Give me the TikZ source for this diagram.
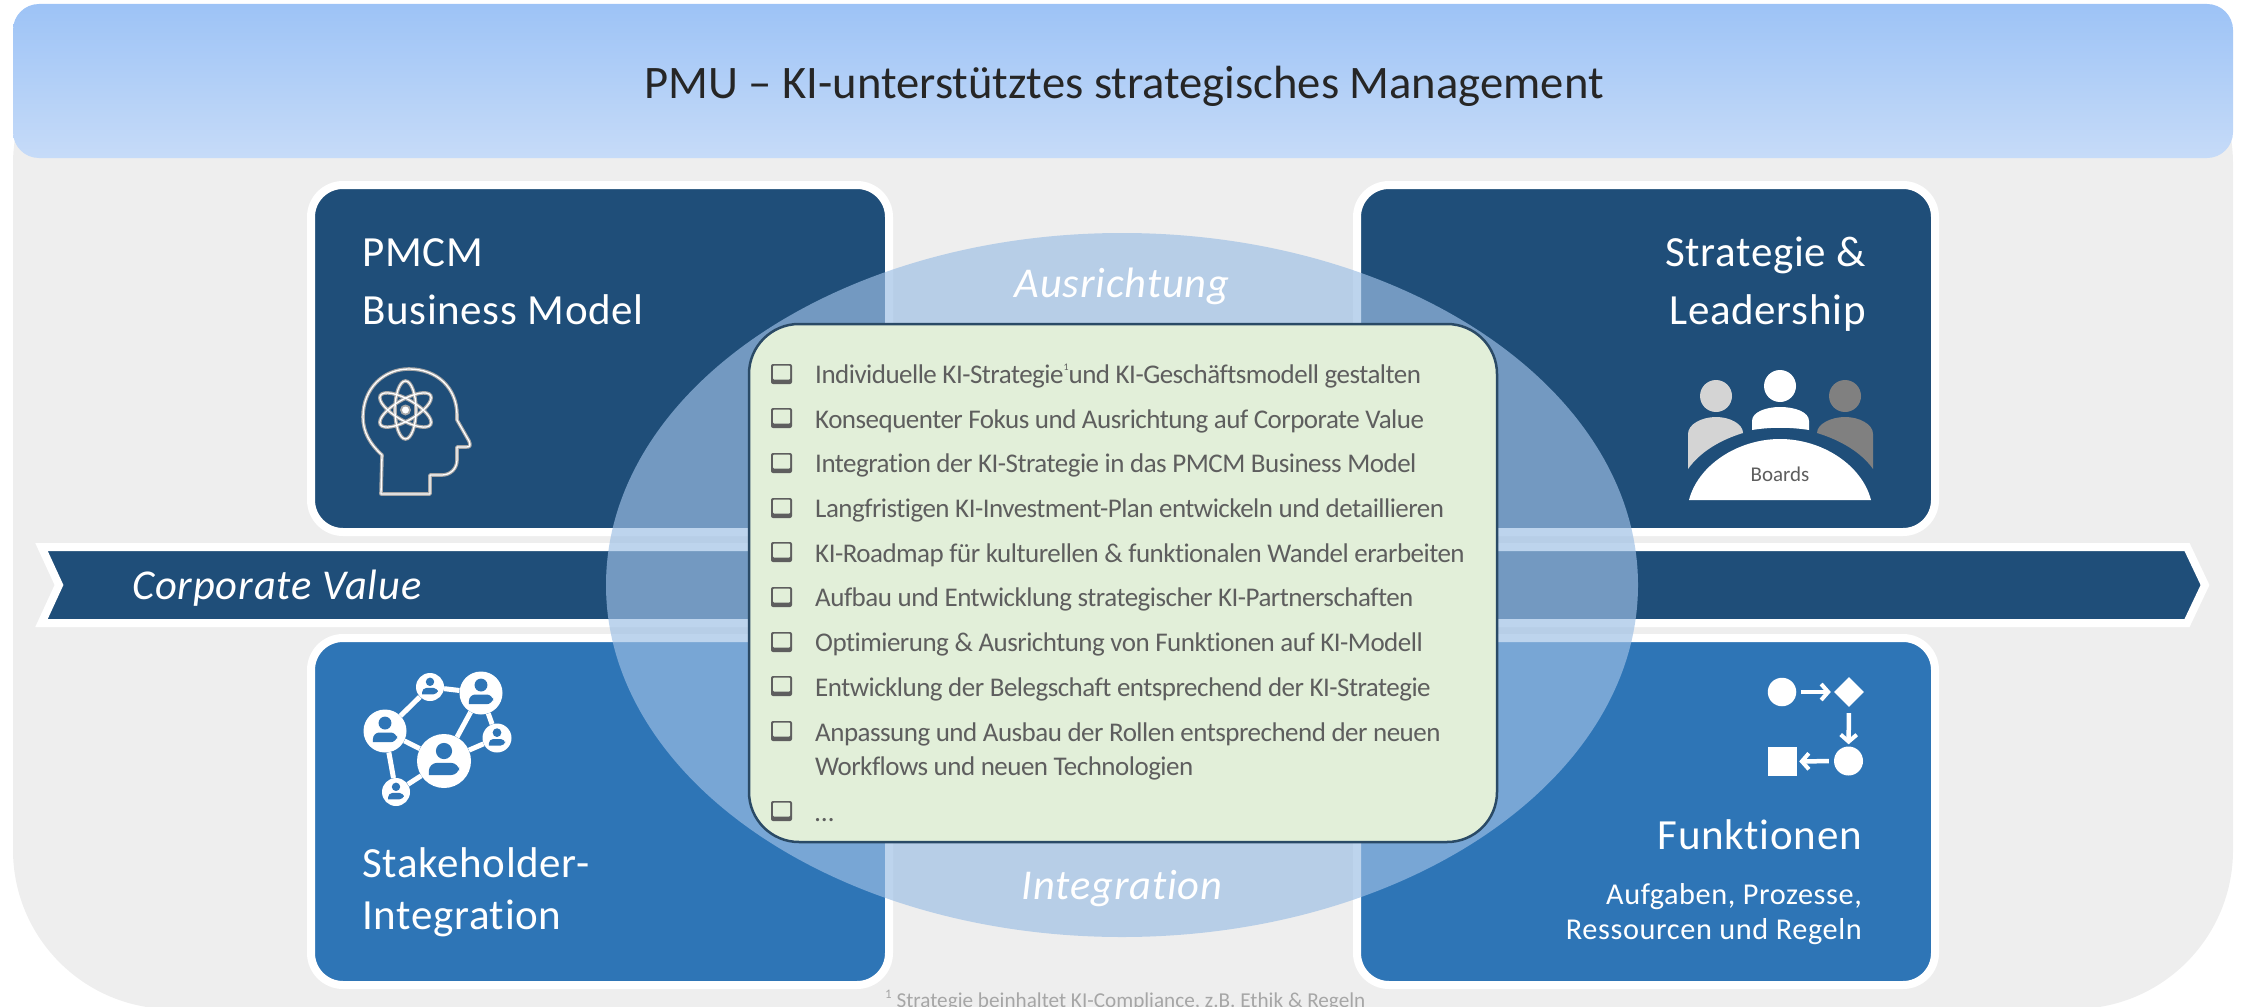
\documentclass[tikz,border=0pt]{standalone}
\usepackage{fontspec}
\setmainfont{Carlito}[Ligatures=NoCommon]
\usetikzlibrary{arrows.meta,shapes.geometric}
\definecolor{bggrey}{HTML}{EEEEEE}
\definecolor{navy}{HTML}{1F4E79}
\definecolor{midblue}{HTML}{2E75B6}
\definecolor{ellblue}{HTML}{9DBFE5}
\definecolor{boxgreen}{HTML}{E2EFD9}
\definecolor{boxline}{HTML}{2A4A66}
\definecolor{txtgrey}{HTML}{5E5E5E}
\definecolor{headtop}{HTML}{9DC3F6}
\definecolor{headbot}{HTML}{C6DBF8}
\definecolor{iconline}{HTML}{A6A6A6}
\tikzset{
  navycard/.style={fill=navy,draw=white,line width=8pt,rounded corners=32pt},
  bluecard/.style={fill=midblue,draw=white,line width=8pt,rounded corners=32pt},
  cardtitle/.style={text=white,inner sep=0pt,font=\fontsize{43}{58}\selectfont\addfontfeature{LetterSpace=1.6}},
  cardsub/.style={text=white,inner sep=0pt,font=\fontsize{30.3}{35}\selectfont\addfontfeature{LetterSpace=2}},
  italiclabel/.style={text=white,inner sep=0pt,font=\fontsize{42.5}{48}\selectfont\itshape\addfontfeature{LetterSpace=2}},
  listline/.style={text=txtgrey,inner sep=0pt,anchor=base west,font=\fontsize{27}{35}\selectfont\addfontfeature{LetterSpace=-1.9}},
  netlink/.style={draw=white,line width=5pt},
  netdot/.style={circle,fill=white,inner sep=0pt},
  flowshape/.style={fill=white,inner sep=0pt,draw=none},
  flowarrow/.style={draw=white,line width=4.5pt,-{Straight Barb[length=7pt,width=16pt,line width=4pt]}},
  headline/.style={draw=iconline,line width=3.6pt},
  headinner/.style={draw=white,line width=1.3pt},
}
\newcommand{\listbox}[2]{%
  \fill[txtgrey] (771,#2-20) [rounded corners=2pt] rectangle (792,#2);
  \fill[boxgreen] (773,#2-18.5) [rounded corners=1pt] rectangle (790,#2-4.5);
}
\newcommand{\netnode}[4]{%
  \node[netdot,minimum size=2*#4 pt] (#1) at (#2,#3) {};
}
\newcommand{\netperson}[3]{%
  \fill[midblue] (#1,#2-0.37*#3) circle[radius=0.3*#3];
  \fill[midblue,rounded corners=0.3*#3 pt] (#1-0.56*#3,#2+0.52*#3) -- (#1-0.56*#3,#2+0.07*#3) -- (#1+0.56*#3,#2+0.07*#3) -- (#1+0.56*#3,#2+0.52*#3) [sharp corners] -- cycle;
}
\begin{document}
\begin{tikzpicture}[x=1pt,y=-1pt]
\useasboundingbox (0,0) rectangle (2242,1006);
% background
\fill[bggrey,rounded corners=159pt] (13,5) rectangle (2233,1009);
\shade[top color=headtop,bottom color=headbot,rounded corners=26pt] (13,4) rectangle (2233,158);
\node[inner sep=0pt,text=black!85,font=\fontsize{46.6}{50}\selectfont] (title) at (1124,86) {PMU – KI-unterstütztes strategisches Management};
% cards
\path[navycard] (311,185) rectangle (889,532);
\path[navycard] (1357,185) rectangle (1935,532);
\path[bluecard] (311,638) rectangle (889,985);
\path[bluecard] (1357,638) rectangle (1935,985);
% banner
\path[fill=navy,draw=white,line width=8pt,miter limit=10] (41.5,547) -- (59,585) -- (41.5,623) -- (2187,623) -- (2205,585) -- (2187,547) -- cycle;
\node[italiclabel,anchor=base west] (corp) at (132,599) {Corporate Value};
% card titles
\node[cardtitle,anchor=base west] (t1a) at (362,266) {PMCM};
\node[cardtitle,anchor=base west] (t1b) at (362,324) {Business Model};
\node[cardtitle,anchor=base east] (t2a) at (1866,266) {Strategie \&};
\node[cardtitle,anchor=base east] (t2b) at (1866,324) {Leadership};
\node[cardtitle,anchor=base west] (t3a) at (362,877) {Stakeholder-};
\node[cardtitle,anchor=base west] (t3b) at (362,929) {Integration};
\node[cardtitle,anchor=base east] (t4a) at (1862,849) {Funktionen};
\node[cardsub,anchor=base east] (t4b) at (1862,904) {Aufgaben, Prozesse,};
\node[cardsub,anchor=base east] (t4c) at (1862,939) {Ressourcen und Regeln};
% head icon
\foreach \st in {headline,headinner}{
  \draw[\st,line join=round] (381,494) -- (382,455) .. controls (370,444) and (363,432) .. (363,417)
    .. controls (363,388) and (384,369) .. (409,369)
    .. controls (437,369) and (457,388) .. (457,415) -- (457,420)
    -- (469,441) .. controls (471,446) and (470,447) .. (466,447)
    -- (457,447) -- (457,460) .. controls (457,469) and (450,475) .. (442,475)
    -- (430,475) -- (430,494) -- cycle;
  \foreach \ang in {0,60,-60}{
    \draw[\st,rotate around={\ang:(405.5,410)}] (405.5,410) ellipse[x radius=10.5,y radius=29];
  }
}
\fill[iconline] (405.5,410) circle[radius=5.5];
\fill[white] (405.5,410) circle[radius=3.5];
% boards icon
\fill[white!83!black] (1716,396) circle[radius=16];
\fill[white] (1780,386) circle[radius=16];
\fill[white!50!black] (1845,396) circle[radius=16];
\fill[white!83!black] (1688,469) -- (1688,434) .. controls (1688,424) and (1702,417) .. (1716,417) .. controls (1730,417) and (1743,424) .. (1743,433) -- (1743,433) .. controls (1720,440) and (1700,452) .. (1688,469) -- cycle;
\fill[white!50!black] (1873,469) -- (1873,434) .. controls (1873,424) and (1859,417) .. (1845,417) .. controls (1831,417) and (1817,424) .. (1817,433) .. controls (1840,440) and (1861,452) .. (1873,469) -- cycle;
\fill[white] (1752,430) -- (1752,421) .. controls (1752,412) and (1766,407) .. (1780,407) .. controls (1795,407) and (1809,412) .. (1809,421) -- (1809,430) .. controls (1790,427) and (1770,427) .. (1752,430) -- cycle;
\fill[white] (1689,500) .. controls (1698,465) and (1738,439) .. (1780,439) .. controls (1822,439) and (1862,465) .. (1871,500) -- cycle;
\node[inner sep=0pt,text=txtgrey,font=\fontsize{21}{24}\selectfont] (boards) at (1780,474) {Boards};
% network icon
\netnode{na}{430}{687}{14}
\netnode{nb}{481}{693}{21.5}
\netnode{nc}{385}{731}{21.5}
\netnode{nd}{497}{738}{14.5}
\netnode{ne}{444}{761}{27}
\netnode{nf}{396}{792}{14}
\draw[netlink] (na) -- (nb);
\draw[netlink] (na) -- (nc);
\draw[netlink] (nc) -- (ne);
\draw[netlink] (nc) -- (nf);
\draw[netlink] (nf) -- (ne);
\draw[netlink] (ne) -- (nb);
\draw[netlink] (ne) -- (nd);
\draw[netlink] (nb) -- (nd);
\netperson{430}{687}{14}
\netperson{481}{693}{21.5}
\netperson{385}{731}{21.5}
\netperson{497}{738}{14.5}
\netperson{444}{761}{27}
\netperson{396}{792}{14}
% flow icon
\node[flowshape,circle,minimum size=28.5pt] (fa) at (1782,692) {};
\node[flowshape,diamond,minimum size=30pt] (fb) at (1849,692) {};
\node[flowshape,circle,minimum size=29pt] (fc) at (1848.5,761) {};
\node[flowshape,rectangle,minimum size=29pt] (fd) at (1782.5,761.5) {};
\draw[flowarrow,shorten <=5pt,shorten >=3pt] (fa) -- (fb);
\draw[flowarrow,shorten <=6pt,shorten >=2pt] (fb) -- (fc);
\draw[flowarrow,shorten <=5pt,shorten >=2pt] (fc) -- (fd);
% ellipse
\fill[ellblue,fill opacity=0.67] (1122,585) ellipse[x radius=516,y radius=352];
\node[italiclabel] (ausr) at (1122,286) {Ausrichtung};
\node[italiclabel,anchor=base] (integ) at (1122,899) {Integration};
% list box
\path[fill=boxgreen,draw=boxline,line width=2.5pt,rounded corners=50pt] (749,324) rectangle (1497,842);
\listbox{1}{384}
\listbox{2}{428}
\listbox{3}{473}
\listbox{4}{518}
\listbox{5}{562}
\listbox{6}{607}
\listbox{7}{652}
\listbox{8}{696}
\listbox{9}{741}
\listbox{10}{821}
\node[listline] (l1) at (815,383) {Individuelle KI-Strategie\raisebox{0.45em}{\fontsize{10}{10}\selectfont 1}und KI-Geschäftsmodell gestalten};
\node[listline] (l2) at (815,428) {Konsequenter Fokus und Ausrichtung auf Corporate Value};
\node[listline] (l3) at (815,472) {Integration der KI-Strategie in das PMCM Business Model};
\node[listline] (l4) at (815,517) {Langfristigen KI-Investment-Plan entwickeln und detaillieren};
\node[listline] (l5) at (815,562) {KI-Roadmap für kulturellen \& funktionalen Wandel erarbeiten};
\node[listline] (l6) at (815,606) {Aufbau und Entwicklung strategischer KI-Partnerschaften};
\node[listline] (l7) at (815,651) {Optimierung \& Ausrichtung von Funktionen auf KI-Modell};
\node[listline] (l8) at (815,696) {Entwicklung der Belegschaft entsprechend der KI-Strategie};
\node[listline] (l9) at (815,741) {Anpassung und Ausbau der Rollen entsprechend der neuen};
\node[listline] (l9b) at (815,775) {Workflows und neuen Technologien};
\node[listline] (l10) at (815,821) {…};
% footnote
\node[inner sep=0pt,anchor=base west,text=white!65!black,font=\fontsize{21.2}{24}\selectfont] (foot) at (885,1007) {\raisebox{0.4em}{\fontsize{13}{13}\selectfont 1} Strategie beinhaltet KI-Compliance, z.B. Ethik \& Regeln};
\end{tikzpicture}
\end{document}
